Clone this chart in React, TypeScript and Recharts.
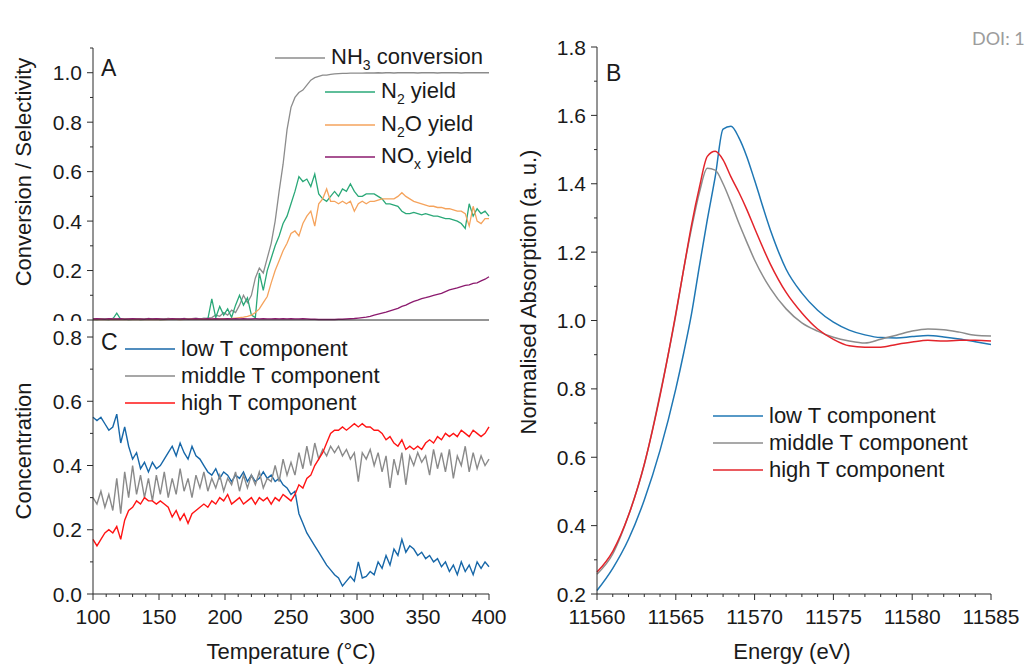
import React from 'react';
import { LineChart, Line, XAxis, YAxis, Legend } from 'recharts';

const FONT = '"Liberation Sans", Arial, Helvetica, sans-serif';
const AXIS = '#2b2b2b';
const TEXT = '#1a1a1a';

// ---- shared temperature grid (panels A and C) ----
const temps = [
  100, 103, 106, 109, 112, 115, 118, 121, 124, 127,
  130, 133, 136, 139, 142, 145, 148, 151, 154, 157,
  160, 163, 166, 169, 172, 175, 178, 181, 184, 187,
  190, 193, 196, 199, 202, 205, 208, 211, 214, 217,
  220, 223, 226, 229, 232, 235, 238, 241, 244, 247,
  250, 253, 256, 259, 262, 265, 268, 271, 274, 277,
  280, 283, 286, 289, 292, 295, 298, 301, 304, 307,
  310, 313, 316, 319, 322, 325, 328, 331, 334, 337,
  340, 343, 346, 349, 352, 355, 358, 361, 364, 367,
  370, 373, 376, 379, 382, 385, 388, 391, 394, 397,
  400,
];

// ---- panel A ----
const namesA = ['NH3 conversion', 'N2 yield', 'N2O yield', 'NOx yield'];

const nh3Conversion = [
  0.004, 0.003, 0.005, 0.004, 0.003, 0.006, 0.004, 0.003, 0.005, 0.004,
  0.003, 0.005, 0.004, 0.003, 0.006, 0.004, 0.005, 0.003, 0.004, 0.006,
  0.004, 0.005, 0.003, 0.006, 0.004, 0.005, 0.007, 0.004, 0.006, 0.008,
  0.01, 0.02, 0.015, 0.03, 0.02, 0.04, 0.03, 0.06, 0.1, 0.07,
  0.1, 0.17, 0.21, 0.19, 0.25, 0.31, 0.4, 0.52, 0.63, 0.77,
  0.86, 0.9, 0.92, 0.93, 0.95, 0.97, 0.98, 0.985, 0.99, 0.99,
  0.993, 0.995, 0.996, 0.997, 0.997, 0.998, 0.998, 0.998, 0.998, 0.999,
  0.999, 0.999, 1, 0.999, 1, 1, 0.999, 1, 1, 1,
  1, 1, 0.999, 1, 1, 1, 1, 0.999, 1, 1,
  1, 1, 1, 0.999, 1, 1, 1, 1, 1, 1,
  1,
];

const n2Yield = [
  0.003, 0.002, 0.004, 0.003, 0.002, 0.004, 0.028, 0.003, 0.004, 0.002,
  0.003, 0.004, 0.002, 0.003, 0.005, 0.003, 0.004, 0.002, 0.003, 0.004,
  0.003, 0.004, 0.003, 0.005, 0.004, 0.003, 0.005, 0.004, 0.006, 0.004,
  0.085, 0.01, 0.055, 0.02, 0.045, 0.01, 0.06, 0.1, 0.06, 0.09,
  0.02, 0.01, 0.19, 0.12, 0.2, 0.25, 0.3, 0.34, 0.39, 0.42,
  0.47, 0.52, 0.58, 0.56, 0.57, 0.54, 0.59, 0.51, 0.49, 0.48,
  0.5, 0.52, 0.5, 0.53, 0.52, 0.55, 0.52, 0.5, 0.5, 0.51,
  0.51, 0.51, 0.5, 0.49, 0.47, 0.47, 0.465, 0.46, 0.44, 0.43,
  0.43, 0.435, 0.43, 0.425, 0.43, 0.425, 0.42, 0.42, 0.415, 0.41,
  0.41, 0.405, 0.4, 0.39, 0.37, 0.47, 0.42, 0.45, 0.43, 0.44,
  0.42,
];

const n2oYield = [
  0.002, 0.002, 0.003, 0.002, 0.002, 0.003, 0.002, 0.002, 0.003, 0.002,
  0.002, 0.003, 0.002, 0.002, 0.003, 0.002, 0.003, 0.002, 0.002, 0.003,
  0.003, 0.003, 0.002, 0.003, 0.003, 0.004, 0.003, 0.003, 0.004, 0.003,
  0.003, 0.004, 0.004, 0.005, 0.005, 0.006, 0.008, 0.01, 0.012, 0.015,
  0.02, 0.03, 0.045, 0.07, 0.095, 0.15, 0.2, 0.24, 0.28, 0.31,
  0.35, 0.36, 0.34, 0.39, 0.42, 0.44, 0.38, 0.47, 0.49, 0.53,
  0.48, 0.48, 0.47, 0.48, 0.47, 0.48, 0.44, 0.47, 0.48, 0.47,
  0.48, 0.48, 0.485, 0.49, 0.49, 0.49, 0.49, 0.5, 0.515, 0.5,
  0.49, 0.48, 0.475, 0.47, 0.465, 0.46, 0.46, 0.455, 0.455, 0.45,
  0.45, 0.445, 0.44, 0.44, 0.43, 0.38, 0.46, 0.4, 0.39, 0.41,
  0.41,
];

const noxYield = [
  0.004, 0.005, 0.004, 0.003, 0.005, 0.004, 0.004, 0.005, 0.003, 0.004,
  0.005, 0.004, 0.004, 0.003, 0.005, 0.004, 0.005, 0.004, 0.003, 0.004,
  0.005, 0.004, 0.004, 0.005, 0.003, 0.004, 0.005, 0.004, 0.004, 0.005,
  0.004, 0.005, 0.004, 0.004, 0.005, 0.004, 0.005, 0.004, 0.005, 0.004,
  0.004, 0.005, 0.004, 0.005, 0.004, 0.004, 0.005, 0.004, 0.005, 0.004,
  0.005, 0.004, 0.004, 0.005, 0.004, 0.003, 0.003, 0.002, 0.002, 0.002,
  0.002, 0.002, 0.003, 0.003, 0.004, 0.005, 0.006, 0.008, 0.01, 0.012,
  0.015, 0.02, 0.024, 0.028, 0.032, 0.037, 0.042, 0.047, 0.055, 0.06,
  0.068, 0.075, 0.08, 0.086, 0.09, 0.095, 0.1, 0.104, 0.108, 0.115,
  0.122, 0.126, 0.13, 0.135, 0.14, 0.142, 0.148, 0.15, 0.158, 0.165,
  0.175,
];

// ---- panel C ----
const componentNames = ['low T component', 'middle T component', 'high T component'];

const lowT = [
  0.55, 0.54, 0.55, 0.53, 0.51, 0.52, 0.56, 0.47, 0.52, 0.46,
  0.42, 0.44, 0.39, 0.41, 0.38, 0.41, 0.39, 0.4, 0.42, 0.44,
  0.46, 0.43, 0.47, 0.44, 0.42, 0.46, 0.43, 0.42, 0.4, 0.38,
  0.37, 0.39, 0.36, 0.38, 0.37, 0.35, 0.37, 0.36, 0.38, 0.35,
  0.37, 0.35, 0.36, 0.38, 0.36, 0.37, 0.35, 0.36, 0.34, 0.33,
  0.31, 0.32, 0.25, 0.22, 0.19, 0.17, 0.15, 0.13, 0.11, 0.09,
  0.075, 0.06, 0.05, 0.025, 0.04, 0.055, 0.04, 0.1, 0.05, 0.055,
  0.07, 0.06, 0.1, 0.08, 0.12, 0.09, 0.14, 0.12, 0.17, 0.13,
  0.15, 0.14, 0.12, 0.13, 0.11, 0.12, 0.1, 0.11, 0.085, 0.1,
  0.07, 0.09, 0.06, 0.1, 0.07, 0.09, 0.06, 0.1, 0.08, 0.1,
  0.085,
];

const middleT = [
  0.3, 0.28, 0.32, 0.27, 0.31, 0.26, 0.36, 0.25, 0.38, 0.3,
  0.4, 0.31, 0.37, 0.3, 0.36, 0.29, 0.37, 0.31, 0.38, 0.3,
  0.36, 0.31, 0.39, 0.32, 0.36, 0.3, 0.37, 0.33, 0.38, 0.32,
  0.36, 0.33, 0.37, 0.32, 0.36, 0.34, 0.38, 0.32, 0.37, 0.33,
  0.37, 0.34, 0.38, 0.33, 0.36, 0.35, 0.4, 0.35, 0.42, 0.37,
  0.41, 0.37, 0.44, 0.39, 0.46, 0.4, 0.47, 0.42, 0.45, 0.43,
  0.46, 0.44, 0.46, 0.43, 0.45, 0.42, 0.44, 0.35, 0.44, 0.42,
  0.45, 0.4, 0.44, 0.38, 0.43, 0.33, 0.42, 0.37, 0.44, 0.34,
  0.43, 0.4, 0.44, 0.41, 0.43, 0.37, 0.45, 0.39, 0.44, 0.38,
  0.45, 0.36, 0.43, 0.4, 0.46, 0.38, 0.44, 0.39, 0.43, 0.4,
  0.42,
];

const highT = [
  0.17, 0.15, 0.17, 0.19, 0.2, 0.19, 0.21, 0.17, 0.23, 0.26,
  0.27, 0.29, 0.28, 0.3, 0.29, 0.29, 0.28, 0.29, 0.28, 0.27,
  0.24, 0.26, 0.23, 0.25, 0.22, 0.25, 0.26, 0.27, 0.28, 0.27,
  0.29, 0.28, 0.3, 0.29, 0.31, 0.28, 0.29, 0.3, 0.28, 0.29,
  0.3, 0.28, 0.3, 0.29, 0.3, 0.28, 0.3, 0.29, 0.31, 0.3,
  0.29, 0.31, 0.34, 0.33, 0.36, 0.37, 0.4, 0.42, 0.44, 0.47,
  0.5, 0.51, 0.51, 0.52, 0.51, 0.52, 0.53, 0.52, 0.53, 0.52,
  0.52, 0.51, 0.51, 0.5, 0.48, 0.49, 0.47, 0.46, 0.48, 0.45,
  0.46, 0.45, 0.46, 0.45, 0.47, 0.48, 0.47, 0.49, 0.48, 0.5,
  0.49, 0.5, 0.49, 0.51, 0.5, 0.49, 0.51, 0.5, 0.49, 0.5,
  0.52,
];

// ---- panel B (XANES spectra of the components) ----
const energies = [
  11560, 11561, 11562, 11563, 11564, 11565, 11565.5, 11566, 11566.5, 11567,
  11567.5, 11568, 11568.5, 11569, 11569.5, 11570, 11571, 11572, 11573, 11574,
  11575, 11576, 11577, 11578, 11579, 11580, 11581, 11582, 11583, 11584, 11585,
];
const lowTSpectrum = [
  0.21, 0.275, 0.36, 0.475, 0.62, 0.8, 0.905, 1.02, 1.16, 1.295,
  1.42, 1.56, 1.568, 1.535, 1.48, 1.41, 1.265, 1.15, 1.08, 1.03,
  0.995, 0.972, 0.958, 0.95, 0.949, 0.953, 0.956, 0.952, 0.946, 0.938, 0.93,
];
const middleTSpectrum = [
  0.258, 0.317, 0.43, 0.578, 0.785, 1.016, 1.15, 1.27, 1.375, 1.445,
  1.44, 1.4, 1.345, 1.285, 1.23, 1.177, 1.094, 1.034, 0.993, 0.969,
  0.951, 0.94, 0.934, 0.945, 0.957, 0.969, 0.975, 0.973, 0.966, 0.957, 0.955,
];
const highTSpectrum = [
  0.264, 0.325, 0.43, 0.58, 0.78, 1.02, 1.15, 1.28, 1.39, 1.48,
  1.495, 1.47, 1.42, 1.375, 1.325, 1.27, 1.165, 1.082, 1.022, 0.975,
  0.945, 0.926, 0.922, 0.922, 0.93, 0.937, 0.942, 0.94, 0.942, 0.942, 0.94,
];

// ---- tick values ----
const tempTicks = [
  100, 110, 120, 130, 140, 150, 160, 170, 180, 190, 200, 210, 220, 230, 240, 250,
  260, 270, 280, 290, 300, 310, 320, 330, 340, 350, 360, 370, 380, 390, 400,
];
const convTicks = [0, 0.1, 0.2, 0.3, 0.4, 0.5, 0.6, 0.7, 0.8, 0.9, 1.0, 1.1];
const concTicks = [0, 0.1, 0.2, 0.3, 0.4, 0.5, 0.6, 0.7, 0.8];
const energyTicks = [
  11560, 11561, 11562, 11563, 11564, 11565, 11566, 11567, 11568, 11569, 11570, 11571, 11572,
  11573, 11574, 11575, 11576, 11577, 11578, 11579, 11580, 11581, 11582, 11583, 11584, 11585,
];
const absTicks = [0.2, 0.3, 0.4, 0.5, 0.6, 0.7, 0.8, 0.9, 1.0, 1.1, 1.2, 1.3, 1.4, 1.5, 1.6, 1.7, 1.8];

const dataA = temps.map((t, i) => ({
  t,
  nh3: nh3Conversion[i],
  n2: n2Yield[i],
  n2o: n2oYield[i],
  nox: noxYield[i],
}));
const dataC = temps.map((t, i) => ({ t, low: lowT[i], mid: middleT[i], high: highT[i] }));
const dataB = energies.map((e, i) => ({
  e,
  low: lowTSpectrum[i],
  mid: middleTSpectrum[i],
  high: highTSpectrum[i],
}));

const colorsA = ['#8c8c8c', '#2aa878', '#f5a35c', '#8b1a6e'];
const colorsC = ['#1767a8', '#8a8a8a', '#ff1414'];
const colorsB = ['#1f77b4', '#8c8c8c', '#e3242b'];

const axisLine = { stroke: AXIS, strokeWidth: 1 };
const evenTenth = (v: number) => Math.round(v * 10) % 2 === 0;

// bottom axis ticks point down, top axis ticks point down into the plot
const makeXTick = (isMajor: (v: number) => boolean, labels: boolean) => (p: any) => {
  const v = p.payload.value;
  const major = isMajor(v);
  return (
    <g>
      <line x1={p.x} x2={p.x} y1={p.y} y2={p.y + (major ? 6 : 3)} stroke={AXIS} />
      {labels && major && (
        <text x={p.x} y={p.y + 30} textAnchor="middle" fontFamily={FONT} fontSize={21} fill={TEXT}>
          {v}
        </text>
      )}
    </g>
  );
};

const makeYTick = () => (p: any) => {
  const v = p.payload.value;
  const major = evenTenth(v);
  return (
    <g>
      <line x1={p.x - (major ? 6 : 3)} x2={p.x} y1={p.y} y2={p.y} stroke={AXIS} />
      {major && (
        <text x={p.x - 11} y={p.y} dy="0.36em" textAnchor="end" fontFamily={FONT} fontSize={21} fill={TEXT}>
          {v.toFixed(1)}
        </text>
      )}
    </g>
  );
};

function Chem({ text }: { text: string }) {
  const parts = text.split(/(?<=[A-Z])(\d|x)(?=[A-Z ])/);
  return (
    <>
      {parts.map((p, i) =>
        i % 2 ? (
          <span key={i} style={{ fontSize: 14, position: 'relative', top: 6 }}>
            {p}
          </span>
        ) : (
          <span key={i}>{p}</span>
        )
      )}
    </>
  );
}

type Row = { label: string; color: string; x: number; y: number };
function LegendRows({ rows }: { rows: Row[] }) {
  return (
    <div style={{ position: 'relative', width: '100%', height: '100%', fontFamily: FONT, fontSize: 22, color: TEXT }}>
      {rows.map((r) => (
        <div
          key={r.label}
          style={{
            position: 'absolute',
            left: r.x,
            top: r.y - 15,
            height: 30,
            lineHeight: '30px',
            display: 'flex',
            alignItems: 'center',
            whiteSpace: 'nowrap',
          }}
        >
          <svg width={50} height={4} style={{ marginRight: 6, display: 'block' }}>
            <line x1={0} x2={50} y1={2} y2={2} stroke={r.color} strokeWidth={1.5} />
          </svg>
          <span>
            <Chem text={r.label} />
          </span>
        </div>
      ))}
    </div>
  );
}

const yTitle = (text: string, cx: number, cy: number, letter: string, lx: number, ly: number) => () => (
  <g>
    <text
      transform={`translate(${cx},${cy}) rotate(-90)`}
      dy="0.36em"
      textAnchor="middle"
      fontFamily={FONT}
      fontSize={22}
      fill={TEXT}
    >
      {text}
    </text>
    <text x={lx} y={ly} fontFamily={FONT} fontSize={23} fill={TEXT}>
      {letter}
    </text>
  </g>
);

const xTitle = (text: string, cx: number) => () => (
  <text x={cx} y={659} textAnchor="middle" fontFamily={FONT} fontSize={22} fill={TEXT}>
    {text}
  </text>
);

function PanelA() {
  const rows: Row[] = namesA.map((label, i) => ({
    label,
    color: colorsA[i],
    x: i === 0 ? 275 : 325,
    y: [58, 92, 125, 157][i],
  }));
  const keys = ['nh3', 'n2', 'n2o', 'nox'];
  // the svg ends one pixel under the shared axis, so panel C hides the lower half of "0.0"
  return (
    <LineChart width={500} height={321} data={dataA} margin={{ top: 48, right: 11, bottom: 0, left: 0 }}>
      <XAxis dataKey="t" type="number" domain={[100, 400]} height={1} tick={false} tickLine={false} axisLine={axisLine} />
      <XAxis xAxisId="frame" orientation="top" type="number" domain={[100, 400]} height={0} tick={false} tickLine={false} axisLine={axisLine} />
      <YAxis
        type="number"
        domain={[0, 1.1]}
        ticks={convTicks}
        interval={0}
        width={93}
        tickSize={0}
        tickMargin={0}
        tickLine={false}
        axisLine={axisLine}
        tick={makeYTick()}
        label={{ content: yTitle('Conversion / Selectivity', 23, 172, 'A', 101, 76) }}
      />
      <YAxis yAxisId="frame" orientation="right" width={0} domain={[0, 1.1]} tick={false} tickLine={false} axisLine={axisLine} />
      {keys.map((k, i) => (
        <Line key={k} dataKey={k} type="linear" stroke={colorsA[i]} strokeWidth={1.3} dot={false} isAnimationActive={false} />
      ))}
      <Legend
        layout="vertical"
        align="center"
        verticalAlign="middle"
        wrapperStyle={{ left: 0, top: 0, width: 500, height: 321 }}
        content={() => <LegendRows rows={rows} />}
      />
    </LineChart>
  );
}

function PanelC() {
  const rows: Row[] = componentNames.map((label, i) => ({
    label,
    color: colorsC[i],
    x: 125,
    y: [349, 376, 403][i],
  }));
  const keys = ['low', 'mid', 'high'];
  return (
    <LineChart width={520} height={664} data={dataC} margin={{ top: 320, right: 31, bottom: 0, left: 0 }}>
      <XAxis
        dataKey="t"
        type="number"
        domain={[100, 400]}
        ticks={tempTicks}
        interval={0}
        height={70}
        tickSize={0}
        tickMargin={0}
        tickLine={false}
        axisLine={axisLine}
        tick={makeXTick((v) => v % 50 === 0, true)}
        label={{ content: xTitle('Temperature (°C)', 291) }}
      />
      <XAxis
        xAxisId="frame"
        orientation="top"
        type="number"
        domain={[100, 400]}
        ticks={tempTicks}
        interval={0}
        height={0}
        tickSize={0}
        tickMargin={0}
        tickLine={false}
        axisLine={axisLine}
        tick={makeXTick((v) => v % 50 === 0, false)}
      />
      <YAxis
        type="number"
        domain={[0, 0.853]}
        ticks={concTicks}
        interval={0}
        width={93}
        tickSize={0}
        tickMargin={0}
        tickLine={false}
        axisLine={axisLine}
        tick={makeYTick()}
        label={{ content: yTitle('Concentration', 23, 451, 'C', 101, 350) }}
      />
      <YAxis yAxisId="frame" orientation="right" width={0} domain={[0, 0.853]} tick={false} tickLine={false} axisLine={axisLine} />
      {keys.map((k, i) => (
        <Line key={k} dataKey={k} type="linear" stroke={colorsC[i]} strokeWidth={1.4} dot={false} isAnimationActive={false} />
      ))}
      <Legend
        layout="vertical"
        align="center"
        verticalAlign="middle"
        wrapperStyle={{ left: 0, top: 0, width: 520, height: 664 }}
        content={() => <LegendRows rows={rows} />}
      />
    </LineChart>
  );
}

function PanelB() {
  const rows: Row[] = componentNames.map((label, i) => ({
    label,
    color: colorsB[i],
    x: 213,
    y: [416, 443, 470][i],
  }));
  const keys = ['low', 'mid', 'high'];
  return (
    <LineChart width={526} height={664} data={dataB} margin={{ top: 47, right: 35, bottom: 0, left: 0 }}>
      <XAxis
        dataKey="e"
        type="number"
        domain={[11560, 11585]}
        ticks={energyTicks}
        interval={0}
        height={70}
        tickSize={0}
        tickMargin={0}
        tickLine={false}
        axisLine={axisLine}
        tick={makeXTick((v) => v % 5 === 0, true)}
        label={{ content: xTitle('Energy (eV)', 292) }}
      />
      <XAxis xAxisId="frame" orientation="top" type="number" domain={[11560, 11585]} height={0} tick={false} tickLine={false} axisLine={axisLine} />
      <YAxis
        type="number"
        domain={[0.2, 1.8]}
        ticks={absTicks}
        interval={0}
        width={97}
        tickSize={0}
        tickMargin={0}
        tickLine={false}
        axisLine={axisLine}
        tick={makeYTick()}
        label={{ content: yTitle('Normalised Absorption (a. u.)', 28, 292, 'B', 106, 81) }}
      />
      <YAxis yAxisId="frame" orientation="right" width={0} domain={[0.2, 1.8]} tick={false} tickLine={false} axisLine={axisLine} />
      {keys.map((k, i) => (
        <Line key={k} dataKey={k} type="monotone" stroke={colorsB[i]} strokeWidth={1.5} dot={false} isAnimationActive={false} />
      ))}
      <Legend
        layout="vertical"
        align="center"
        verticalAlign="middle"
        wrapperStyle={{ left: 0, top: 0, width: 526, height: 664 }}
        content={() => <LegendRows rows={rows} />}
      />
    </LineChart>
  );
}

export default function App() {
  return (
    <div style={{ position: 'absolute', left: 0, top: 0, width: 1026, height: 664, background: '#fff', overflow: 'hidden' }}>
      <div style={{ position: 'absolute', left: 0, top: 0 }}>
        <PanelA />
      </div>
      <div style={{ position: 'absolute', left: 0, top: 0 }}>
        <PanelC />
      </div>
      <div style={{ position: 'absolute', left: 500, top: 0 }}>
        <PanelB />
      </div>
      <div
        style={{
          position: 'absolute',
          left: 972,
          top: 29,
          fontFamily: 'Lato, sans-serif',
          fontSize: 18,
          lineHeight: '18px',
          color: '#9c9c9c',
          whiteSpace: 'nowrap',
        }}
      >
        DOI: 1
      </div>
    </div>
  );
}
